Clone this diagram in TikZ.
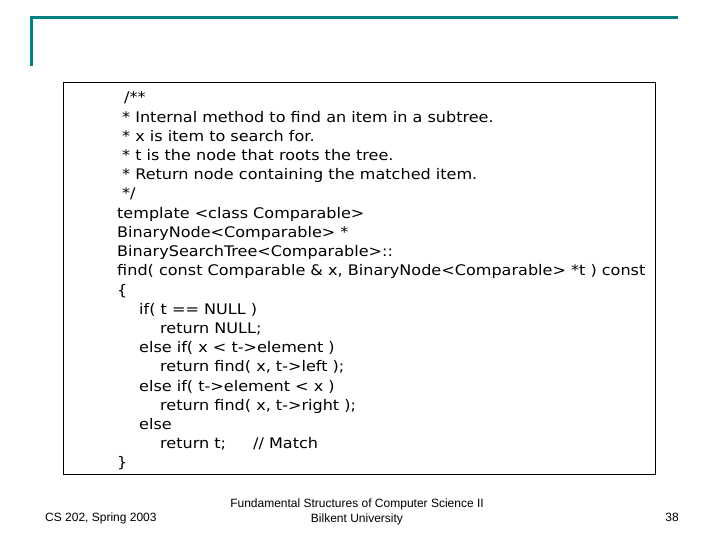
\documentclass[tikz,border=0pt]{standalone}
\usepackage{fontspec}
\setmainfont{DejaVu Sans}[FakeStretch=1.1]
\newfontfamily\arialf{Liberation Sans}
\definecolor{slideteal}{RGB}{0,128,128}
\begin{document}
\begin{tikzpicture}[x=1pt,y=-1pt,
  codeline/.style={anchor=base west,inner sep=0pt,font=\fontsize{14.6}{17}\selectfont},
  foot/.style={inner sep=0pt,font=\arialf\fontsize{12}{14}\selectfont}]
\useasboundingbox (0,0) rectangle (720,540);
\draw[slideteal,line width=3pt] (30,18) -- (678,18);
\draw[slideteal,line width=3pt] (31,17) -- (31,66);
\draw[black,line width=0.8pt] (63,82) rectangle (655,474) node[coordinate](box){};
\foreach \t/\x [count=\i from 0] in {
 {/**}/124,
 {* Internal method to find an item in a subtree.}/122,
 {* x is item to search for.}/122,
 {* t is the node that roots the tree.}/122,
 {* Return node containing the matched item.}/122,
 {*/}/122,
 {template <class Comparable>}/117,
 {BinaryNode<Comparable> *}/117,
 {BinarySearchTree<Comparable>::}/117,
 {find( const Comparable \& x, BinaryNode<Comparable> *t ) const}/117,
 {\{}/117,
 {if( t == NULL )}/139,
 {return NULL;}/160,
 {else if( x < t->element )}/139,
 {return find( x, t->left );}/160,
 {else if( t->element < x )}/139,
 {return find( x, t->right );}/160,
 {else}/139,
 {return t;}/160,
 {\}}/117}
 { \node[codeline] (l\i) at (\x,103+19.2*\i) {\t}; }
\node[codeline] (match) at (253,103+19.2*18) {// Match};
\node[foot,anchor=base west] (f1) at (45,521) {CS 202, Spring 2003};
\node[foot,anchor=base] (f2) at (357,507) {Fundamental Structures of Computer Science II};
\node[foot,anchor=base] (f3) at (357,522) {Bilkent University};
\node[foot,anchor=base east] (f4) at (679,521) {38};
\end{tikzpicture}
\end{document}
